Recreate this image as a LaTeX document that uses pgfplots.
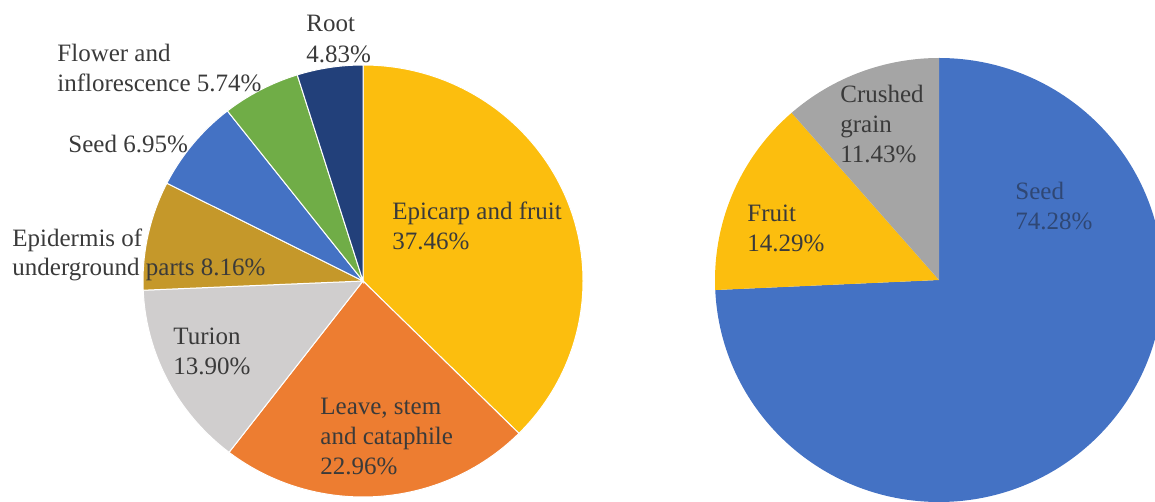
\documentclass[border=0pt]{standalone}
\usepackage{pgfplots}
\usepackage{pgfplotstable}
\pgfplotsset{compat=1.18}
\usepackage{fontspec}
\setmainfont{Liberation Serif}

\definecolor{cEpi}{HTML}{FCBE0E}
\definecolor{cLeave}{HTML}{ED7D31}
\definecolor{cTur}{HTML}{D0CECE}
\definecolor{cEpid}{HTML}{C5982A}
\definecolor{cSeed}{HTML}{4472C4}
\definecolor{cFlow}{HTML}{70AD47}
\definecolor{cRoot}{HTML}{22407A}
\definecolor{cGray}{HTML}{A5A5A5}
\definecolor{txt}{HTML}{3A3A3A}
\definecolor{txtSeed}{HTML}{2F4774}

\pgfplotstableread{
v c
37.46 cEpi
22.96 cLeave
13.90 cTur
8.16 cEpid
6.95 cSeed
5.74 cFlow
4.83 cRoot
}\lefttab

\pgfplotstableread{
v c
74.28 cSeed
14.29 cEpi
11.43 cGray
}\righttab

% #1 table, #2 x radius, #3 y radius, #4 separator style
\newcommand{\drawpie}[4]{%
  \pgfplotstablegetrowsof{#1}%
  \pgfmathtruncatemacro\N{\pgfplotsretval-1}%
  \def\cum{0}%
  \pgfplotsforeachungrouped \i in {0,...,\N}{%
    \pgfplotstablegetelem{\i}{v}\of{#1}\let\vv\pgfplotsretval
    \pgfplotstablegetelem{\i}{c}\of{#1}\let\sc\pgfplotsretval
    \pgfmathsetmacro\aa{90-3.6*\cum}%
    \pgfmathsetmacro\bb{90-3.6*(\cum+\vv)}%
    \edef\temp{\noexpand\filldraw[fill=\sc, #4] (axis cs:0,0) -- (axis cs:{cos(\aa)},{sin(\aa)}) arc[start angle=\aa, end angle=\bb, x radius=#2, y radius=#3] -- cycle;}%
    \temp
    \pgfmathsetmacro\cum{\cum+\vv}%
  }%
}

\newcommand{\lbl}[4][txt]{\node[anchor=base west, inner sep=0pt, text=#1, font=\fontsize{12.5}{15}\selectfont] at (#2,{502-#3}) {#4};}

\begin{document}
\begin{tikzpicture}[x=0.5pt,y=0.5pt]
\useasboundingbox (0,0) rectangle (1155,502);
\clip (0,0) rectangle (1155,502);

\begin{axis}[at={(181.5pt,110.5pt)}, anchor=center, scale only axis,
  width=220pt, height=216pt, xmin=-1, xmax=1, ymin=-1, ymax=1,
  hide axis, clip=false]
  \drawpie{\lefttab}{110pt}{108pt}{draw=white, line width=0.5pt}
\end{axis}

\begin{axis}[at={(469.5pt,111pt)}, anchor=center, scale only axis,
  width=224pt, height=222pt, xmin=-1, xmax=1, ymin=-1, ymax=1,
  hide axis, clip=false]
  \drawpie{\righttab}{112pt}{111pt}{draw=none}
\end{axis}

% left labels
\lbl{306}{32}{Root}
\lbl{306}{63}{4.83\%}
\lbl{57}{62}{Flower and}
\lbl{57}{92}{inflorescence 5.74\%}
\lbl{68}{153}{Seed 6.95\%}
\lbl{12}{247}{Epidermis of}
\lbl{12}{276}{underground parts 8.16\%}
\lbl{173}{345}{Turion}
\lbl{173}{375}{13.90\%}
\lbl{320}{415}{Leave, stem}
\lbl{320}{445}{and cataphile}
\lbl{320}{475}{22.96\%}
\lbl{392}{220}{Epicarp and fruit}
\lbl{392}{250}{37.46\%}
% right labels
\lbl{840}{103}{Crushed}
\lbl{840}{133}{grain}
\lbl{840}{163}{11.43\%}
\lbl{747}{222}{Fruit}
\lbl{747}{252}{14.29\%}
\lbl[txtSeed]{1015}{200}{Seed}
\lbl[txtSeed]{1015}{230}{74.28\%}
\end{tikzpicture}
\end{document}
